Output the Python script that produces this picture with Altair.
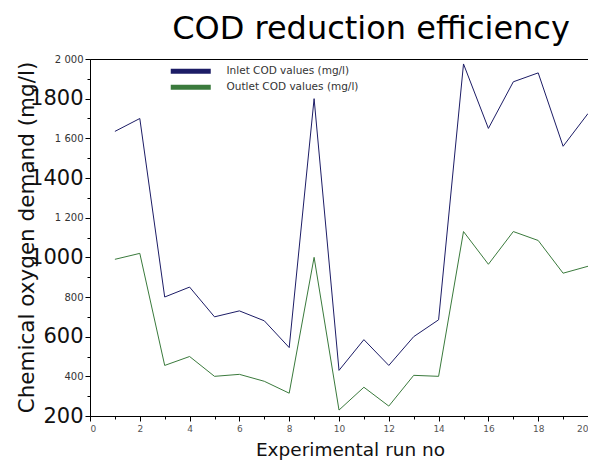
import altair as alt
import pandas as pd

runs = list(range(1, 21))
inlet = [1635, 1700, 800, 850, 700, 730, 680, 545, 1800, 430,
         585, 455, 600, 685, 1975, 1650, 1885, 1930, 1560, 1725]
outlet = [990, 1020, 455, 500, 400, 410, 375, 315, 1000, 230,
          345, 250, 405, 400, 1130, 965, 1130, 1085, 920, 955]
series_names = ["Inlet COD values (mg/l)", "Outlet COD values (mg/l)"]
series_colors = ["#1c1c66", "#3a7a3c"]

rows = []
for r, a, b in zip(runs, inlet, outlet):
    rows.append({"run": r, "value": a, "series": series_names[0]})
    rows.append({"run": r, "value": b, "series": series_names[1]})
df = pd.DataFrame(rows)

y_vals = list(range(200, 2001, 100))
x_vals = list(range(0, 21))

chart = alt.Chart(df).mark_line(strokeWidth=1).encode(
    x=alt.X("run:Q",
            scale=alt.Scale(domain=[0, 20], nice=False, zero=False),
            axis=alt.Axis(
                title="Experimental run no",
                values=x_vals,
                labelExpr="datum.value % 2 == 0 ? datum.label : ''",
                tickSize={"condition": {"test": "datum.value % 2 == 0", "value": 5}, "value": 3},
                labelFontSize=9,
                labelColor="#555555",
                labelPadding=3,
                titleFontSize=18.5,
                titleFontWeight="normal",
                titleColor="#111111",
                titleX=260,
                titleY=39,
                titleAlign="center",
                titleBaseline="alphabetic",
                grid=False,
                domainColor="#000000",
                tickColor="#000000",
            )),
    y=alt.Y("value:Q",
            scale=alt.Scale(domain=[200, 2000], nice=False, zero=False),
            axis=alt.Axis(
                title="Chemical oxygen demand (mg/l)",
                values=y_vals,
                labelExpr="datum.value % 200 != 0 ? '' : (datum.value % 400 == 200 ? format(datum.value, 'd') : replace(format(datum.value, ','), ',', ' '))",
                labelFontSize={"condition": {"test": "datum.value % 400 == 200", "value": 21}, "value": 10},
                labelColor={"condition": {"test": "datum.value % 400 == 200", "value": "#111111"}, "value": "#333333"},
                tickSize={"condition": {"test": "datum.value % 200 == 0", "value": 5}, "value": 3},
                labelPadding=2,
                titleFontSize=21.5,
                titleFontWeight="normal",
                titleColor="#111111",
                titleX=-63,
                titleY=178,
                titleAlign="center",
                titleBaseline="middle",
                grid=False,
                domainColor="#000000",
                tickColor="#000000",
            )),
    color=alt.Color("series:N",
                    scale=alt.Scale(domain=series_names, range=series_colors),
                    legend=alt.Legend(
                        title=None,
                        orient="none",
                        legendX=78,
                        legendY=7,
                        symbolType="M-1,0H15",
                        symbolSize=25,
                        symbolStrokeWidth=5,
                        rowPadding=-11,
                        labelFontSize=10.5,
                        labelOffset=48,
                        labelColor="#333333",
                    )),
).properties(
    width=498,
    height=357,
    title=alt.TitleParams("COD reduction efficiency", fontSize=32, fontWeight="normal",
                          anchor="middle", dx=32, offset=8, color="#000000"),
    autosize=alt.AutoSizeParams(type="none"),
    padding={"left": 82, "top": 51, "right": 0, "bottom": 44},
).configure(
    font="DejaVu Sans",
).configure_view(
    stroke="#000000",
    strokeWidth=1,
)

chart.save("out.html", embed_options={"renderer": "svg", "actions": False})
